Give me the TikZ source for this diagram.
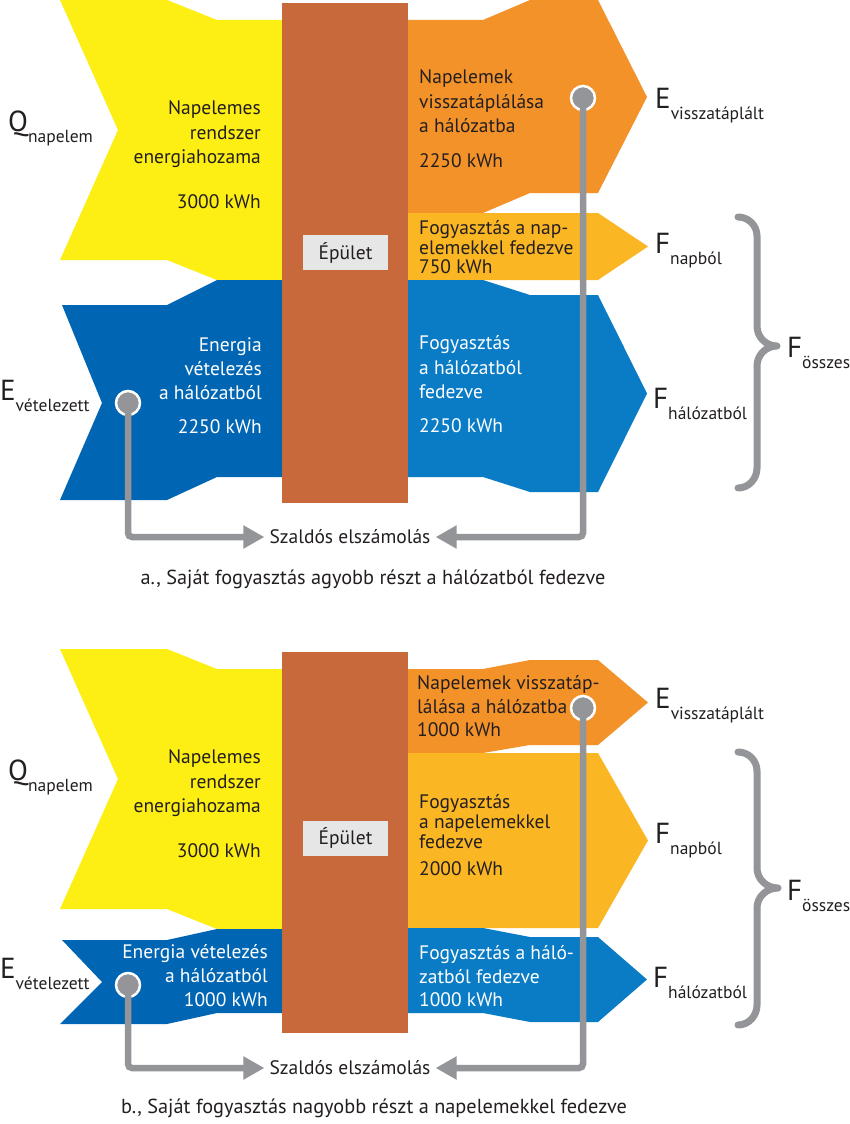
\documentclass[tikz,border=0pt]{standalone}
\usepackage{fontspec}
\setmainfont{PT Sans}
\usetikzlibrary{arrows.meta}
\definecolor{cyel}{HTML}{FDEE14}
\definecolor{cbld}{HTML}{C8693B}
\definecolor{cora}{HTML}{F4922A}
\definecolor{cgol}{HTML}{FBB624}
\definecolor{cbl1}{HTML}{0066B3}
\definecolor{cbl2}{HTML}{0A7CC6}
\definecolor{cgry}{HTML}{939598}
\definecolor{cbox}{HTML}{E6E6E6}
\definecolor{ctxt}{HTML}{231F20}
\newcommand\sublab[1]{\raisebox{-11pt}{\fontsize{17.5}{17.5}\selectfont #1}}
\tikzset{
  txt/.style={font=\fontsize{19.5}{24.5}\selectfont, inner sep=0pt, text=ctxt},
  wtxt/.style={txt, text=white},
  lab/.style={inner sep=0pt, anchor=base west, font=\fontsize{29}{29}\selectfont, text=ctxt},
  bldg/.style={fill=cbld},
  epbox/.style={fill=cbox, minimum width=85pt, minimum height=35pt, inner sep=0pt, font=\fontsize{19.5}{19.5}\selectfont, text=ctxt},
  circ/.style={circle, fill=cgry, draw=white, line width=2.5pt, minimum size=24pt, inner sep=0pt},
  conn/.style={draw=cgry, line width=6.5pt, rounded corners=4pt, -{Triangle[length=21pt,width=22pt]}},
  brace/.style={draw=cgry, line width=7pt, line cap=round, line join=round},
  szal/.style={font=\fontsize{19.5}{19.5}\selectfont, inner xsep=5pt, inner ysep=0pt, text=ctxt},
  capt/.style={font=\fontsize{20.3}{20.3}\selectfont, inner sep=0pt, text=ctxt}
}
\begin{document}
\begin{tikzpicture}[x=1pt,y=-1pt]
\useasboundingbox[fill=white] (0,0) rectangle (849,1124);
% ================= panel a =================
\fill[cyel] (60,0) -- (167,0) -- (217,20) -- (283,20) -- (283,280) -- (217,280) -- (167,260) -- (60,260) -- (118,130) -- cycle;
\fill[cbl1] (62,305) -- (167,305) -- (217,280) -- (283,280) -- (283,477) -- (217,477) -- (167,500) -- (60,500) -- (102,403) -- cycle;
\fill[cora] (406,20) -- (483,20) -- (530,0) -- (598,0) -- (647,97) -- (598,193) -- (530,193) -- (483,213) -- (406,213) -- cycle;
\fill[cgol] (406,213) -- (598,213) -- (648,246.5) -- (598,280) -- (406,280) -- cycle;
\fill[cbl2] (406,280) -- (483,280) -- (530,295) -- (598,295) -- (647,393.5) -- (598,492) -- (530,492) -- (483,477) -- (406,477) -- cycle;
\fill[bldg] (282,3) rectangle (408,503);
\node[epbox] (epa) at (345.5,252.5) {Épület};

\node[txt, anchor=east, align=right] (ya) at (261,154.5) {Napelemes\\rendszer\\energiahozama\\[20pt]3000 kWh};
\node[wtxt, anchor=east, align=right, font=\fontsize{19.5}{24}\selectfont] (bla) at (262,386) {Energia\\vételezés\\a hálózatból\\[10pt]2250 kWh};
\node[txt, anchor=west, align=left] (ora) at (419,118.5) {Napelemek\\visszatáplálása\\a hálózatba\\[10pt]2250 kWh};
\node[txt, anchor=west, align=left, font=\fontsize{19.5}{19.5}\selectfont] (goa) at (419,247.5) {Fogyasztás a nap-\\elemekkel fedezve\\750 kWh};
\node[wtxt, anchor=west, align=left] (bra) at (419,384) {Fogyasztás\\a hálózatból\\fedezve\\[9pt]2250 kWh};

\node[lab] (qa) at (8,131) {Q\sublab{napelem}};
\node[lab] (eva) at (0,400) {E\sublab{vételezett}};
\node[lab] (esa) at (655,108) {E\sublab{visszatáplált}};
\node[lab] (fna) at (655,253) {F\sublab{napból}};
\node[lab] (fha) at (653,408) {F\sublab{hálózatból}};
\node[lab] (foa) at (787,357) {F\sublab{összes}};

\draw[brace] (738,217) to[out=0,in=90] (757,236) -- (757,326) to[out=-90,in=180] (777,346)
  to[out=180,in=90] (757,366) -- (757,468) to[out=-90,in=0] (738,488);

\node[circ] (cla) at (128,403) {};
\node[circ] (cra) at (583,98) {};
\node[szal] (sza) at (350,537) {Szaldós elszámolás};
\draw[conn] (cla.center) |- (sza.west);
\draw[conn] (cra.center) |- (sza.east);
\node[capt] (capa) at (373,579) {a., Saját fogyasztás agyobb részt a hálózatból fedezve};

% ================= panel b =================
\fill[cyel] (60,649) -- (167,649) -- (217,669) -- (283,669) -- (283,929) -- (217,929) -- (167,909) -- (60,909) -- (118,779) -- cycle;
\fill[cbl1] (62,940) -- (167,940) -- (217,929) -- (283,929) -- (283,1013) -- (217,1013) -- (167,1024) -- (60,1024) -- (102,982) -- cycle;
\fill[cora] (406,669) -- (483,669) -- (530,660) -- (598,660) -- (648,702.5) -- (598,745) -- (530,745) -- (483,753) -- (406,753) -- cycle;
\fill[cgol] (406,753) -- (598,753) -- (648,840.5) -- (598,928) -- (406,928) -- cycle;
\fill[cbl2] (406,928) -- (483,928) -- (530,937) -- (598,937) -- (647,979.5) -- (598,1022) -- (530,1022) -- (483,1013) -- (406,1013) -- cycle;
\fill[bldg] (282,652) rectangle (408,1033);
\node[epbox] (epb) at (345.5,838) {Épület};

\node[txt, anchor=east, align=right] (yb) at (261,803.5) {Napelemes\\rendszer\\energiahozama\\[20pt]3000 kWh};
\node[wtxt, anchor=east, align=right, font=\fontsize{19.5}{24}\selectfont] (blb) at (268,976) {Energia vételezés\\a hálózatból\\1000 kWh};
\node[txt, anchor=west, align=left, font=\fontsize{19.5}{23.5}\selectfont] (orb) at (417,706.5) {Napelemek visszatáp-\\lálása a hálózatba\\1000 kWh};
\node[txt, anchor=west, align=left, font=\fontsize{19.5}{20}\selectfont] (gob) at (419,835.5) {Fogyasztás\\a napelemekkel\\fedezve\\[7pt]2000 kWh};
\node[wtxt, anchor=west, align=left, font=\fontsize{19.5}{23.5}\selectfont] (brb) at (419,976.5) {Fogyasztás a háló-\\zatból fedezve\\1000 kWh};

\node[lab] (qb) at (8,780) {Q\sublab{napelem}};
\node[lab] (evb) at (0,978) {E\sublab{vételezett}};
\node[lab] (esb) at (655,708) {E\sublab{visszatáplált}};
\node[lab] (fnb) at (655,843) {F\sublab{napból}};
\node[lab] (fhb) at (653,987) {F\sublab{hálózatból}};
\node[lab] (fob) at (787,900) {F\sublab{összes}};

\draw[brace] (738,752) to[out=0,in=90] (757,771) -- (757,868) to[out=-90,in=180] (778,888)
  to[out=180,in=90] (757,908) -- (757,1005) to[out=-90,in=0] (738,1025);

\node[circ] (clb) at (128,985) {};
\node[circ] (crb) at (583,708) {};
\node[szal] (szb) at (350,1068) {Szaldós elszámolás};
\draw[conn] (clb.center) |- (szb.west);
\draw[conn] (crb.center) |- (szb.east);
\node[capt] (capb) at (374,1108) {b., Saját fogyasztás nagyobb részt a napelemekkel fedezve};
\end{tikzpicture}
\end{document}
